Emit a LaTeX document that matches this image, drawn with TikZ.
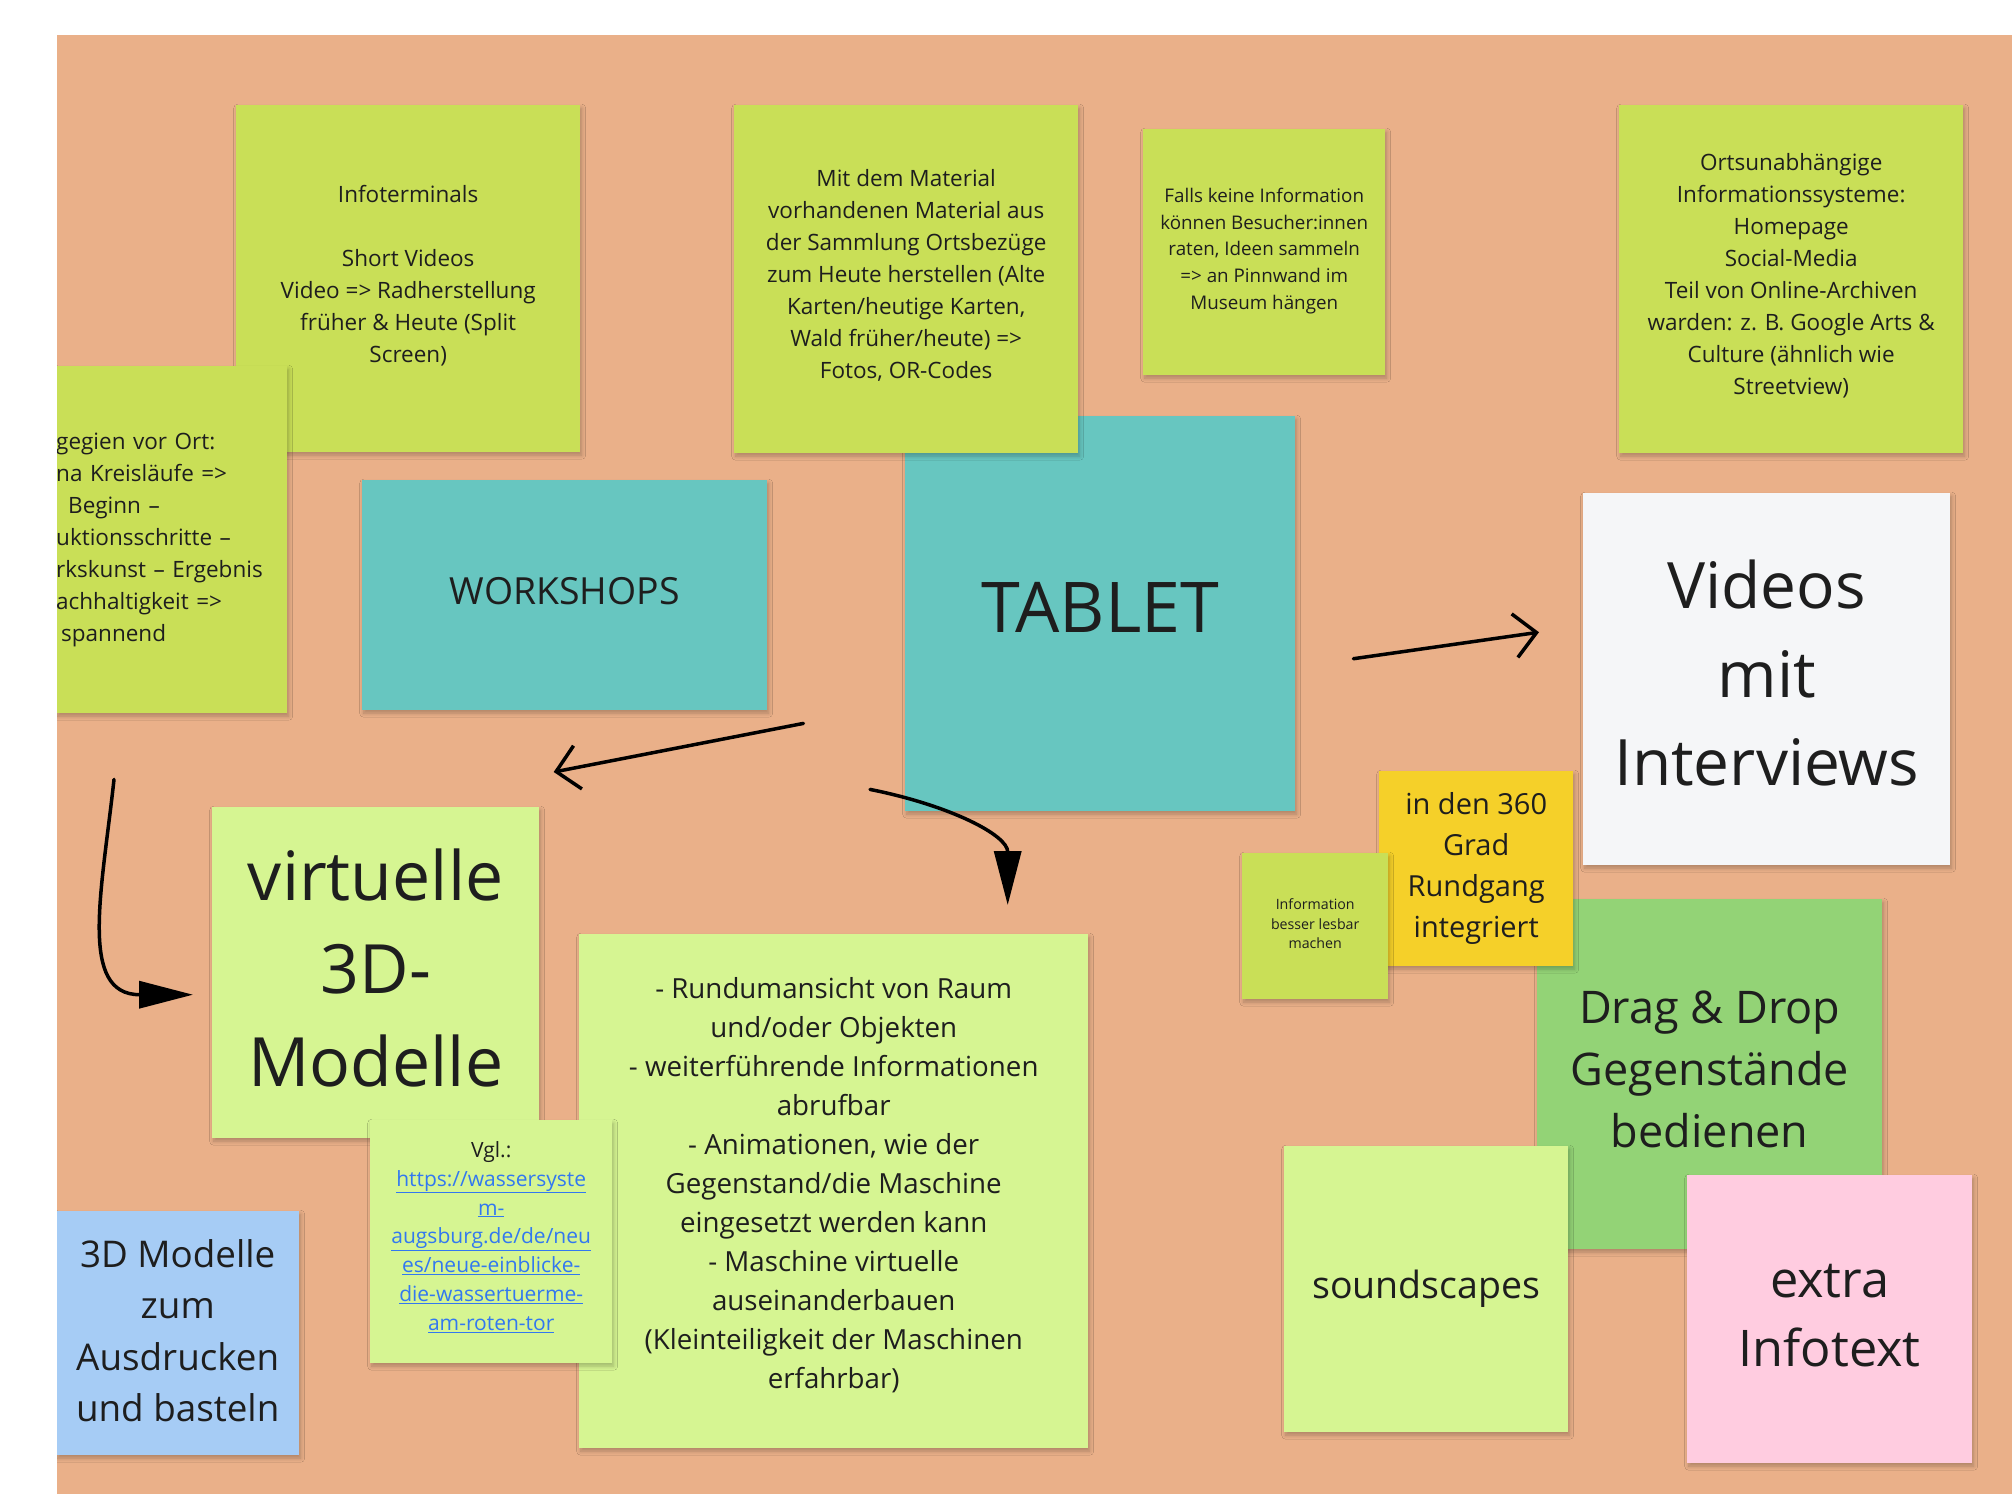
\documentclass[tikz,border=0pt]{standalone}
\usepackage{fontspec}
\setmainfont{Open Sans}
\usetikzlibrary{arrows.meta, positioning, calc, shadows.blur}
\definecolor{boardOrange}{RGB}{234, 176, 137}
\definecolor{noteLime}{RGB}{201, 223, 87}
\definecolor{noteMint}{RGB}{214, 245, 146}
\definecolor{noteTeal}{RGB}{103, 198, 192}
\definecolor{noteWhite}{RGB}{245, 246, 248}
\definecolor{noteYellow}{RGB}{245, 208, 41}
\definecolor{noteGreen}{RGB}{147, 211, 118}
\definecolor{notePink}{RGB}{255, 204, 224}
\definecolor{noteBlue}{RGB}{166, 204, 245}
\definecolor{linkBlue}{RGB}{50, 120, 240}
\definecolor{inkDark}{RGB}{30, 30, 30}
\newcommand{\weblink}[1]{\textcolor{linkBlue}{\underline{#1}}}

\begin{document}
\begin{tikzpicture}[
    x=1pt, y=-1pt,
    % Estilo base para notas
    note/.style={
        rectangle,
        anchor=north west,
        inner sep=0pt,
        align=center,
        text=inkDark,
        blur shadow={shadow xshift=1.5pt, shadow yshift=-3pt, shadow blur radius=4pt, shadow opacity=25, shadow blur steps=5}
    },
    % Tamaño de la nota
    notesize/.style 2 args={
        minimum width=#1pt,
        minimum height=#2pt
    },
    % Tamaño del texto
    textsize/.style 2 args={
        font=\fontsize{#1}{#2}\selectfont
    },
    % Sube el texto dentro de la nota
    lift/.style={
        text depth=#1pt
    },
    % Estilo para flechas abiertas
    arrow_open/.style={
        -{Straight Barb[length=22pt, width=44pt]},
        line width=3.5pt,
        line cap=round,
        black
    },
    % Estilo para flechas rellenas
    arrow_filled/.style={
        -{Triangle[length=54pt, width=27pt]},
        line width=3.5pt,
        line cap=round,
        black
    }
]

    % --- 0. Fondo (Board) ---
    \useasboundingbox (0,0) rectangle (2012,1494);
    \fill[white] (0,0) rectangle (2012,1494);
    \fill[boardOrange] (56.5,35) rectangle (2012,1494);

    % --- 1. Fila superior ---

    % Tablet (debajo de la nota del material)
    \node[note, fill=noteTeal, notesize={390}{395}, textsize={70}{92}, lift=12.8] (tablet) at (905,416) {TABLET};

    \node[note, fill=noteLime, notesize={344}{348}, textsize={22.5}{32}, lift=10.8] (material) at (734,105) {
        Mit dem Material\\
        vorhandenen Material aus\\
        der Sammlung Ortsbezüge\\
        zum Heute herstellen (Alte\\
        Karten/heutige Karten,\\
        Wald früher/heute) =>\\
        Fotos, OR-Codes
    };

    \node[note, fill=noteLime, notesize={344}{347}, textsize={22.5}{32}, lift=10.6] (infoterminals) at (236,105) {
        Infoterminals\\
        ~\\
        Short Videos\\
        Video => Radherstellung\\
        früher \& Heute (Split\\
        Screen)
    };

    % Nota cortada por el borde izquierdo
    \node[note, fill=noteLime, notesize={231}{347}, textsize={22.5}{32}, text width=231pt, align=left] (local_workshop) at (56,366) {
        gegien vor Ort:\\
        na Kreisläufe =>\\
        \hspace*{12pt}Beginn –\\
        uktionsschritte –\\
        rkskunst – Ergebnis\\
        achhaltigkeit =>\\
        \hspace*{5pt}spannend
    };

    \node[note, fill=noteLime, notesize={242}{246}, textsize={18.8}{26.7}, lift=7.1] (guessing) at (1143,129) {
        Falls keine Information\\
        können Besucher:innen\\
        raten, Ideen sammeln\\
        => an Pinnwand im\\
        Museum hängen
    };

    \node[note, fill=noteLime, notesize={344}{348}, textsize={22.5}{32}, lift=10.6] (online) at (1619,105) {
        Ortsunabhängige\\
        Informationssysteme:\\
        Homepage\\
        Social-Media\\
        Teil von Online-Archiven\\
        warden: z. B. Google Arts \&\\
        Culture (ähnlich wie\\
        Streetview)
    };

    % --- 2. Fila central ---
    \node[note, fill=noteTeal, notesize={405}{230}, textsize={37.4}{50}, lift=7.7] (workshops) at (362,480) {WORKSHOPS};

    \node[note, fill=noteWhite, notesize={367}{372}, textsize={64}{88.5}, lift=12.8] (videos) at (1583,493) {
        Videos\\
        mit\\
        Interviews
    };

    % --- 3. Columna derecha ---
    \node[note, fill=noteGreen, notesize={345}{350}, textsize={45}{61.6}, lift=10.2] (dragdrop) at (1537,899) {
        Drag \& Drop\\
        Gegenstände\\
        bedienen
    };

    \node[note, fill=noteYellow, notesize={194}{195}, textsize={29}{41}] (rundgang) at (1379,771) {
        in den 360\\
        Grad\\
        Rundgang\\
        integriert
    };

    \node[note, fill=noteLime, notesize={146}{146}, textsize={14.2}{19.7}, lift=5.2] (lesbar) at (1242,853) {
        Information\\
        besser lesbar\\
        machen
    };

    \node[note, fill=noteMint, notesize={284}{286}, textsize={37.5}{50}] (soundscapes) at (1284,1146) {soundscapes};

    \node[note, fill=notePink, notesize={285}{288}, textsize={50.5}{69}, lift=7.7] (infotext) at (1687,1175) {
        extra\\
        Infotext
    };

    % --- 4. Fila inferior izquierda ---
    \node[note, fill=noteMint, notesize={327}{331}, textsize={68}{93}, lift=10.2] (modelle3d) at (212,807) {
        virtuelle\\
        3D-\\
        Modelle
    };

    \node[note, fill=noteMint, notesize={509}{514}, textsize={27.7}{39}, lift=16.8] (rundum) at (579,934) {
        - Rundumansicht von Raum\\
        und/oder Objekten\\
        - weiterführende Informationen\\
        abrufbar\\
        - Animationen, wie der\\
        Gegenstand/die Maschine\\
        eingesetzt werden kann\\
        - Maschine virtuelle\\
        auseinanderbauen\\
        (Kleinteiligkeit der Maschinen\\
        erfahrbar)
    };

    \node[note, fill=noteMint, notesize={242}{243}, textsize={21}{28.8}, lift=11.7] (vgl) at (370,1120) {
        Vgl.:\\
        \weblink{https://wassersyste}\\
        \weblink{m-}\\
        \weblink{augsburg.de/de/neu}\\
        \weblink{es/neue-einblicke-}\\
        \weblink{die-wassertuerme-}\\
        \weblink{am-roten-tor}
    };

    \node[note, fill=noteBlue, notesize={243}{244}, textsize={36.8}{51.3}, lift=5.2] (ausdrucken) at (56,1211) {
        3D Modelle\\
        zum\\
        Ausdrucken\\
        und basteln
    };

    % Margen blanco a la izquierda (tapa las sombras)
    \fill[white] (0,0) rectangle (56.5,1494);

    % --- 5. Flechas ---
    \coordinate (tablet_tail) at ($(tablet.east)+(58,45)$);
    \coordinate (videos_tip) at ($(videos.west)+(-44,-47)$);
    \draw[arrow_open] (tablet_tail) -- (videos_tip);

    \coordinate (workshops_tail) at ($(workshops.south east)+(36,13)$);
    \coordinate (modelle_tip) at ($(modelle3d.north)+(178,-35)$);
    \draw[arrow_open] (workshops_tail) -- (modelle_tip);

    \coordinate (tablet_bend) at ($(tablet.south west)+(-35,-22)$);
    \coordinate (rundum_tip) at ($(rundum.north)+(174,-29)$);
    \draw[arrow_filled] (tablet_bend) .. controls +(80,16) and +(0,-70) .. (rundum_tip);

    \coordinate (local_tail) at ($(local_workshop.south west)+(58,66)$);
    \coordinate (modelle_side) at ($(modelle3d.west)+(-19,22)$);
    \draw[arrow_filled] (local_tail) .. controls +(-12,111) and +(-115,0) .. (modelle_side);

\end{tikzpicture}
\end{document}
